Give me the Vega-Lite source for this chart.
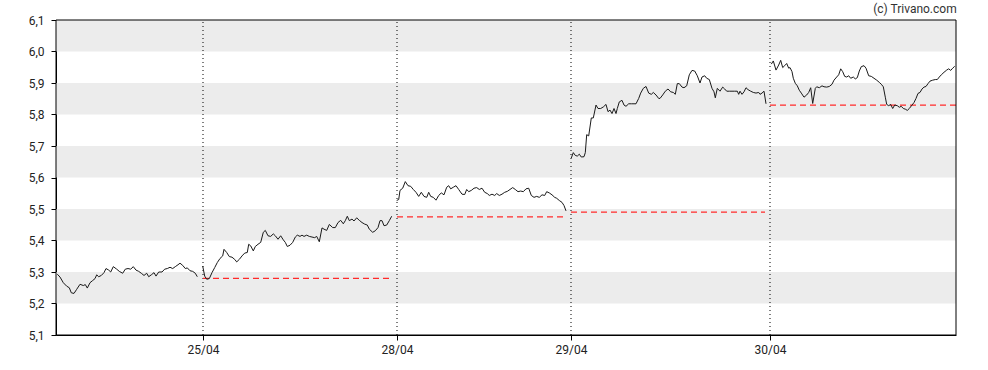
{
  "$schema": "https://vega.github.io/schema/vega-lite/v6.json",
  "width": 900,
  "height": 315,
  "autosize": {"type": "none"},
  "padding": {"left": 56, "top": 20, "right": 32, "bottom": 35},
  "background": "white",
  "title": {"text": "(c) Trivano.com", "anchor": "end", "fontSize": 12, "fontWeight": "normal", "font": "Roboto", "color": "#333333", "offset": -2},
  "config": {
    "view": {"stroke": null},
    "axis": {"grid": false, "domainColor": "black", "tickColor": "black", "labelColor": "#222222", "labelFont": "Roboto", "labelFontSize": 12, "tickSize": 5, "labelOverlap": false, "title": null, "zindex": 1}
  },
  "datasets": {
    "bands": [{"t": 0, "t2": 900, "v": 5.2, "v2": 5.3}, {"t": 0, "t2": 900, "v": 5.4, "v2": 5.5}, {"t": 0, "t2": 900, "v": 5.6, "v2": 5.7}, {"t": 0, "t2": 900, "v": 5.8, "v2": 5.9}, {"t": 0, "t2": 900, "v": 6.0, "v2": 6.1}],
    "frame": [{"t": 0, "t2": 900, "v": 5.1, "v2": 6.1}],
    "days": [{"t": 147, "v": 5.1, "v2": 6.1}, {"t": 341, "v": 5.1, "v2": 6.1}, {"t": 515, "v": 5.1, "v2": 6.1}, {"t": 714, "v": 5.1, "v2": 6.1}],
    "prev": [{"t": 147, "t2": 334, "v": 5.28}, {"t": 341, "t2": 509, "v": 5.475}, {"t": 515, "t2": 709, "v": 5.49}, {"t": 714, "t2": 900, "v": 5.83}],
    "price": [
      {"d":1,"t":1.3,"v":5.293},{"d":1,"t":4.0,"v":5.284},{"d":1,"t":7.3,"v":5.266},{"d":1,"t":10.7,"v":5.255},{"d":1,"t":13.3,"v":5.25},{"d":1,"t":15.3,"v":5.234},{"d":1,"t":18.0,"v":5.232},{"d":1,"t":20.7,"v":5.245},{"d":1,"t":24.0,"v":5.261},{"d":1,"t":27.3,"v":5.257},{"d":1,"t":29.3,"v":5.26},{"d":1,"t":31.3,"v":5.249},{"d":1,"t":34.0,"v":5.266},{"d":1,"t":36.7,"v":5.273},{"d":1,"t":39.0,"v":5.279},{"d":1,"t":40.7,"v":5.291},{"d":1,"t":42.7,"v":5.285},{"d":1,"t":45.3,"v":5.289},{"d":1,"t":48.0,"v":5.298},{"d":1,"t":50.0,"v":5.311},{"d":1,"t":52.7,"v":5.306},{"d":1,"t":54.7,"v":5.3},{"d":1,"t":57.3,"v":5.317},{"d":1,"t":60.7,"v":5.309},{"d":1,"t":63.3,"v":5.302},{"d":1,"t":66.7,"v":5.296},{"d":1,"t":69.3,"v":5.309},{"d":1,"t":72.0,"v":5.311},{"d":1,"t":74.7,"v":5.309},{"d":1,"t":77.3,"v":5.317},{"d":1,"t":80.0,"v":5.306},{"d":1,"t":82.7,"v":5.302},{"d":1,"t":85.3,"v":5.296},{"d":1,"t":88.0,"v":5.289},{"d":1,"t":90.7,"v":5.296},{"d":1,"t":92.7,"v":5.285},{"d":1,"t":95.3,"v":5.291},{"d":1,"t":98.0,"v":5.298},{"d":1,"t":100.0,"v":5.287},{"d":1,"t":102.7,"v":5.3},{"d":1,"t":106.0,"v":5.3},{"d":1,"t":108.7,"v":5.309},{"d":1,"t":111.3,"v":5.311},{"d":1,"t":114.0,"v":5.315},{"d":1,"t":116.7,"v":5.311},{"d":1,"t":119.3,"v":5.317},{"d":1,"t":122.0,"v":5.323},{"d":1,"t":124.0,"v":5.328},{"d":1,"t":126.7,"v":5.321},{"d":1,"t":129.3,"v":5.311},{"d":1,"t":131.3,"v":5.313},{"d":1,"t":134.0,"v":5.304},{"d":1,"t":136.7,"v":5.302},{"d":1,"t":139.3,"v":5.296},{"d":1,"t":141.3,"v":5.285},
      {"d":2,"t":146.7,"v":5.319},{"d":2,"t":148.7,"v":5.287},{"d":2,"t":150.7,"v":5.277},{"d":2,"t":153.3,"v":5.279},{"d":2,"t":156.0,"v":5.298},{"d":2,"t":158.7,"v":5.314},{"d":2,"t":161.3,"v":5.33},{"d":2,"t":164.0,"v":5.343},{"d":2,"t":166.7,"v":5.351},{"d":2,"t":168.0,"v":5.372},{"d":2,"t":170.7,"v":5.362},{"d":2,"t":173.3,"v":5.349},{"d":2,"t":176.0,"v":5.347},{"d":2,"t":178.7,"v":5.34},{"d":2,"t":180.7,"v":5.332},{"d":2,"t":183.3,"v":5.34},{"d":2,"t":186.0,"v":5.351},{"d":2,"t":188.7,"v":5.36},{"d":2,"t":191.3,"v":5.362},{"d":2,"t":192.7,"v":5.388},{"d":2,"t":194.7,"v":5.383},{"d":2,"t":197.3,"v":5.367},{"d":2,"t":199.3,"v":5.381},{"d":2,"t":202.0,"v":5.388},{"d":2,"t":204.7,"v":5.394},{"d":2,"t":207.3,"v":5.426},{"d":2,"t":209.3,"v":5.432},{"d":2,"t":212.0,"v":5.415},{"d":2,"t":214.7,"v":5.413},{"d":2,"t":217.3,"v":5.421},{"d":2,"t":219.3,"v":5.415},{"d":2,"t":222.0,"v":5.404},{"d":2,"t":224.7,"v":5.415},{"d":2,"t":227.3,"v":5.402},{"d":2,"t":229.3,"v":5.394},{"d":2,"t":231.3,"v":5.381},{"d":2,"t":234.0,"v":5.385},{"d":2,"t":236.7,"v":5.394},{"d":2,"t":239.3,"v":5.411},{"d":2,"t":241.3,"v":5.417},{"d":2,"t":244.0,"v":5.413},{"d":2,"t":246.0,"v":5.417},{"d":2,"t":248.0,"v":5.413},{"d":2,"t":250.7,"v":5.417},{"d":2,"t":253.3,"v":5.413},{"d":2,"t":256.0,"v":5.411},{"d":2,"t":258.7,"v":5.409},{"d":2,"t":260.7,"v":5.413},{"d":2,"t":263.3,"v":5.396},{"d":2,"t":266.0,"v":5.44},{"d":2,"t":268.0,"v":5.436},{"d":2,"t":270.7,"v":5.432},{"d":2,"t":273.3,"v":5.451},{"d":2,"t":276.7,"v":5.441},{"d":2,"t":279.3,"v":5.441},{"d":2,"t":282.0,"v":5.457},{"d":2,"t":284.7,"v":5.464},{"d":2,"t":287.3,"v":5.453},{"d":2,"t":289.3,"v":5.463},{"d":2,"t":291.3,"v":5.477},{"d":2,"t":293.3,"v":5.463},{"d":2,"t":296.0,"v":5.468},{"d":2,"t":298.0,"v":5.462},{"d":2,"t":300.7,"v":5.472},{"d":2,"t":303.3,"v":5.464},{"d":2,"t":306.0,"v":5.457},{"d":2,"t":308.7,"v":5.452},{"d":2,"t":311.3,"v":5.449},{"d":2,"t":313.3,"v":5.436},{"d":2,"t":316.7,"v":5.426},{"d":2,"t":319.3,"v":5.431},{"d":2,"t":322.0,"v":5.441},{"d":2,"t":324.0,"v":5.463},{"d":2,"t":326.0,"v":5.463},{"d":2,"t":328.0,"v":5.447},{"d":2,"t":330.7,"v":5.449},{"d":2,"t":333.3,"v":5.463},{"d":2,"t":335.7,"v":5.477},
      {"d":3,"t":340.7,"v":5.527},{"d":3,"t":342.7,"v":5.53},{"d":3,"t":344.0,"v":5.559},{"d":3,"t":346.7,"v":5.566},{"d":3,"t":349.3,"v":5.587},{"d":3,"t":352.0,"v":5.574},{"d":3,"t":354.7,"v":5.572},{"d":3,"t":357.3,"v":5.562},{"d":3,"t":360.0,"v":5.553},{"d":3,"t":362.7,"v":5.54},{"d":3,"t":365.3,"v":5.553},{"d":3,"t":368.0,"v":5.54},{"d":3,"t":370.7,"v":5.537},{"d":3,"t":372.7,"v":5.553},{"d":3,"t":374.7,"v":5.54},{"d":3,"t":377.3,"v":5.537},{"d":3,"t":380.0,"v":5.528},{"d":3,"t":382.7,"v":5.543},{"d":3,"t":385.3,"v":5.551},{"d":3,"t":388.0,"v":5.545},{"d":3,"t":390.7,"v":5.569},{"d":3,"t":392.7,"v":5.574},{"d":3,"t":394.7,"v":5.564},{"d":3,"t":397.3,"v":5.569},{"d":3,"t":400.0,"v":5.574},{"d":3,"t":402.7,"v":5.562},{"d":3,"t":406.0,"v":5.547},{"d":3,"t":408.7,"v":5.546},{"d":3,"t":410.7,"v":5.562},{"d":3,"t":412.7,"v":5.555},{"d":3,"t":415.3,"v":5.559},{"d":3,"t":418.0,"v":5.566},{"d":3,"t":420.7,"v":5.568},{"d":3,"t":423.3,"v":5.562},{"d":3,"t":426.0,"v":5.566},{"d":3,"t":428.7,"v":5.553},{"d":3,"t":431.3,"v":5.549},{"d":3,"t":433.3,"v":5.543},{"d":3,"t":436.0,"v":5.547},{"d":3,"t":438.7,"v":5.543},{"d":3,"t":440.7,"v":5.549},{"d":3,"t":443.3,"v":5.543},{"d":3,"t":446.0,"v":5.547},{"d":3,"t":448.7,"v":5.553},{"d":3,"t":451.3,"v":5.556},{"d":3,"t":454.0,"v":5.562},{"d":3,"t":456.7,"v":5.568},{"d":3,"t":459.3,"v":5.562},{"d":3,"t":462.0,"v":5.555},{"d":3,"t":464.7,"v":5.557},{"d":3,"t":467.3,"v":5.555},{"d":3,"t":470.0,"v":5.564},{"d":3,"t":472.7,"v":5.566},{"d":3,"t":475.3,"v":5.543},{"d":3,"t":478.0,"v":5.537},{"d":3,"t":480.7,"v":5.54},{"d":3,"t":483.3,"v":5.537},{"d":3,"t":486.0,"v":5.545},{"d":3,"t":488.7,"v":5.543},{"d":3,"t":490.7,"v":5.555},{"d":3,"t":493.3,"v":5.551},{"d":3,"t":496.0,"v":5.545},{"d":3,"t":498.7,"v":5.537},{"d":3,"t":500.7,"v":5.534},{"d":3,"t":503.3,"v":5.527},{"d":3,"t":506.0,"v":5.521},{"d":3,"t":508.0,"v":5.511},{"d":3,"t":510.0,"v":5.494},
      {"d":4,"t":515.3,"v":5.662},{"d":4,"t":517.3,"v":5.679},{"d":4,"t":519.3,"v":5.67},{"d":4,"t":521.3,"v":5.668},{"d":4,"t":523.3,"v":5.674},{"d":4,"t":525.3,"v":5.665},{"d":4,"t":528.0,"v":5.666},{"d":4,"t":529.3,"v":5.679},{"d":4,"t":530.7,"v":5.736},{"d":4,"t":532.7,"v":5.732},{"d":4,"t":535.3,"v":5.789},{"d":4,"t":537.3,"v":5.789},{"d":4,"t":540.0,"v":5.83},{"d":4,"t":542.0,"v":5.819},{"d":4,"t":544.7,"v":5.819},{"d":4,"t":547.3,"v":5.824},{"d":4,"t":550.0,"v":5.832},{"d":4,"t":552.0,"v":5.809},{"d":4,"t":554.0,"v":5.814},{"d":4,"t":556.0,"v":5.803},{"d":4,"t":558.0,"v":5.819},{"d":4,"t":560.0,"v":5.803},{"d":4,"t":561.3,"v":5.819},{"d":4,"t":563.3,"v":5.84},{"d":4,"t":566.0,"v":5.845},{"d":4,"t":568.0,"v":5.83},{"d":4,"t":570.0,"v":5.826},{"d":4,"t":572.7,"v":5.834},{"d":4,"t":575.3,"v":5.834},{"d":4,"t":578.0,"v":5.834},{"d":4,"t":580.0,"v":5.834},{"d":4,"t":582.7,"v":5.851},{"d":4,"t":584.7,"v":5.868},{"d":4,"t":587.3,"v":5.883},{"d":4,"t":590.0,"v":5.889},{"d":4,"t":592.7,"v":5.868},{"d":4,"t":595.3,"v":5.864},{"d":4,"t":597.3,"v":5.87},{"d":4,"t":600.0,"v":5.862},{"d":4,"t":602.7,"v":5.851},{"d":4,"t":604.0,"v":5.851},{"d":4,"t":606.7,"v":5.862},{"d":4,"t":609.3,"v":5.874},{"d":4,"t":612.0,"v":5.881},{"d":4,"t":614.7,"v":5.872},{"d":4,"t":617.3,"v":5.87},{"d":4,"t":619.3,"v":5.864},{"d":4,"t":621.3,"v":5.898},{"d":4,"t":623.3,"v":5.898},{"d":4,"t":626.0,"v":5.887},{"d":4,"t":628.0,"v":5.885},{"d":4,"t":630.7,"v":5.891},{"d":4,"t":633.3,"v":5.926},{"d":4,"t":636.0,"v":5.94},{"d":4,"t":638.7,"v":5.938},{"d":4,"t":641.3,"v":5.923},{"d":4,"t":644.0,"v":5.9},{"d":4,"t":646.0,"v":5.919},{"d":4,"t":648.7,"v":5.923},{"d":4,"t":650.7,"v":5.915},{"d":4,"t":653.3,"v":5.911},{"d":4,"t":656.0,"v":5.883},{"d":4,"t":658.0,"v":5.872},{"d":4,"t":659.3,"v":5.853},{"d":4,"t":661.3,"v":5.883},{"d":4,"t":664.0,"v":5.874},{"d":4,"t":666.7,"v":5.887},{"d":4,"t":668.7,"v":5.881},{"d":4,"t":670.7,"v":5.874},{"d":4,"t":673.3,"v":5.874},{"d":4,"t":676.0,"v":5.874},{"d":4,"t":678.7,"v":5.874},{"d":4,"t":681.3,"v":5.874},{"d":4,"t":682.7,"v":5.864},{"d":4,"t":684.0,"v":5.874},{"d":4,"t":686.0,"v":5.864},{"d":4,"t":688.0,"v":5.872},{"d":4,"t":690.0,"v":5.885},{"d":4,"t":692.0,"v":5.879},{"d":4,"t":694.7,"v":5.874},{"d":4,"t":697.3,"v":5.87},{"d":4,"t":700.0,"v":5.868},{"d":4,"t":702.7,"v":5.87},{"d":4,"t":704.0,"v":5.864},{"d":4,"t":706.0,"v":5.868},{"d":4,"t":708.0,"v":5.874},{"d":4,"t":710.0,"v":5.834},
      {"d":5,"t":715.3,"v":5.96},{"d":5,"t":717.3,"v":5.97},{"d":5,"t":720.0,"v":5.941},{"d":5,"t":722.7,"v":5.957},{"d":5,"t":724.7,"v":5.972},{"d":5,"t":726.7,"v":5.949},{"d":5,"t":728.7,"v":5.955},{"d":5,"t":730.7,"v":5.962},{"d":5,"t":732.7,"v":5.947},{"d":5,"t":734.0,"v":5.949},{"d":5,"t":736.0,"v":5.936},{"d":5,"t":737.3,"v":5.915},{"d":5,"t":739.3,"v":5.899},{"d":5,"t":741.3,"v":5.891},{"d":5,"t":743.3,"v":5.877},{"d":5,"t":745.3,"v":5.868},{"d":5,"t":748.0,"v":5.855},{"d":5,"t":750.7,"v":5.862},{"d":5,"t":752.7,"v":5.87},{"d":5,"t":754.7,"v":5.885},{"d":5,"t":756.7,"v":5.835},{"d":5,"t":759.3,"v":5.883},{"d":5,"t":760.7,"v":5.888},{"d":5,"t":763.3,"v":5.885},{"d":5,"t":766.0,"v":5.891},{"d":5,"t":768.0,"v":5.888},{"d":5,"t":770.7,"v":5.887},{"d":5,"t":773.3,"v":5.889},{"d":5,"t":776.0,"v":5.896},{"d":5,"t":778.0,"v":5.909},{"d":5,"t":780.7,"v":5.919},{"d":5,"t":782.7,"v":5.926},{"d":5,"t":784.7,"v":5.945},{"d":5,"t":786.7,"v":5.936},{"d":5,"t":788.7,"v":5.921},{"d":5,"t":790.7,"v":5.919},{"d":5,"t":792.7,"v":5.923},{"d":5,"t":794.7,"v":5.915},{"d":5,"t":797.3,"v":5.919},{"d":5,"t":799.3,"v":5.913},{"d":5,"t":801.3,"v":5.917},{"d":5,"t":803.3,"v":5.938},{"d":5,"t":805.3,"v":5.952},{"d":5,"t":808.0,"v":5.955},{"d":5,"t":810.0,"v":5.947},{"d":5,"t":812.7,"v":5.923},{"d":5,"t":815.3,"v":5.921},{"d":5,"t":818.0,"v":5.915},{"d":5,"t":820.7,"v":5.909},{"d":5,"t":823.3,"v":5.902},{"d":5,"t":825.3,"v":5.896},{"d":5,"t":827.3,"v":5.888},{"d":5,"t":829.3,"v":5.855},{"d":5,"t":830.7,"v":5.832},{"d":5,"t":832.7,"v":5.828},{"d":5,"t":834.7,"v":5.832},{"d":5,"t":836.7,"v":5.819},{"d":5,"t":838.7,"v":5.83},{"d":5,"t":841.3,"v":5.828},{"d":5,"t":843.3,"v":5.823},{"d":5,"t":845.3,"v":5.826},{"d":5,"t":847.3,"v":5.819},{"d":5,"t":849.3,"v":5.817},{"d":5,"t":851.3,"v":5.813},{"d":5,"t":853.3,"v":5.819},{"d":5,"t":856.0,"v":5.83},{"d":5,"t":858.0,"v":5.838},{"d":5,"t":860.0,"v":5.851},{"d":5,"t":862.0,"v":5.867},{"d":5,"t":864.0,"v":5.87},{"d":5,"t":866.0,"v":5.881},{"d":5,"t":868.0,"v":5.887},{"d":5,"t":870.0,"v":5.889},{"d":5,"t":872.0,"v":5.898},{"d":5,"t":874.0,"v":5.906},{"d":5,"t":876.7,"v":5.909},{"d":5,"t":879.3,"v":5.911},{"d":5,"t":881.3,"v":5.911},{"d":5,"t":883.3,"v":5.919},{"d":5,"t":885.3,"v":5.926},{"d":5,"t":888.0,"v":5.934},{"d":5,"t":890.7,"v":5.941},{"d":5,"t":892.7,"v":5.945},{"d":5,"t":894.7,"v":5.94},{"d":5,"t":896.7,"v":5.947},{"d":5,"t":898.7,"v":5.953}
    ]
  },
  "encoding": {
    "x": {"field": "t", "type": "quantitative", "scale": {"domain": [0, 900], "nice": false, "zero": false}, "axis": {"values": [147, 341, 515, 714], "labelExpr": "datum.value == 147 ? '25/04' : datum.value == 341 ? '28/04' : datum.value == 515 ? '29/04' : '30/04'", "labelPadding": 4, "labelOverlap": false}},
    "y": {"field": "v", "type": "quantitative", "scale": {"domain": [5.1, 6.1], "nice": false, "zero": false}, "axis": {"values": [5.1, 5.2, 5.3, 5.4, 5.5, 5.6, 5.7, 5.8, 5.9, 6.0, 6.1], "tickCount": 11, "labelExpr": "replace(format(datum.value, '.1f'), '.', ',')", "labelPadding": 7, "labelOverlap": false, "labelSeparation": 0}}
  },
  "layer": [
    {
      "data": {"name": "bands"},
      "mark": {"type": "rect", "color": "#ececec"},
      "encoding": {"x2": {"field": "t2"}, "y2": {"field": "v2"}}
    },
    {
      "data": {"name": "days"},
      "mark": {"type": "rule", "color": "black", "strokeWidth": 1, "strokeDash": [1, 3]},
      "encoding": {"y2": {"field": "v2"}}
    },
    {
      "data": {"name": "prev"},
      "mark": {"type": "rule", "color": "#ff2a2a", "strokeWidth": 1.2, "strokeDash": [6, 4]},
      "encoding": {"x2": {"field": "t2"}}
    },
    {
      "data": {"name": "price"},
      "mark": {"type": "line", "color": "#1a1a1a", "strokeWidth": 1, "interpolate": "linear"},
      "encoding": {"detail": {"field": "d", "type": "nominal"}}
    },
    {
      "data": {"name": "frame"},
      "mark": {"type": "rect", "fill": null, "fillOpacity": 0, "stroke": "black", "strokeWidth": 1},
      "encoding": {"x2": {"field": "t2"}, "y2": {"field": "v2"}}
    }
  ]
}
